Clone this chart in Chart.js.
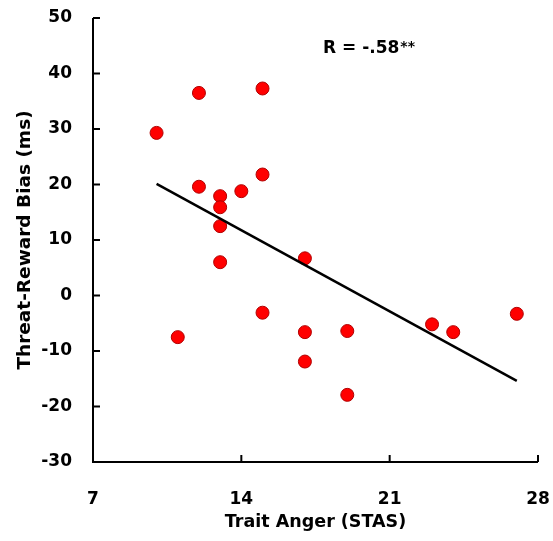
<!DOCTYPE html>
<html>
<head>
<meta charset="utf-8">
<script src="https://cdn.jsdelivr.net/npm/chart.js@4"></script>
<style>
  html, body { margin: 0; padding: 0; background: #fff; }
  #wrap { width: 553px; height: 541px; }
</style>
</head>
<body>
<div id="wrap"><canvas id="chart1"></canvas></div>
<script>
// data
const angerScores = [10, 11, 12, 12, 13, 13, 13, 13, 14, 15, 15, 15, 17, 17, 17, 19, 19, 23, 24, 27]
const biasValues = [29.3, -7.5, 36.5, 19.6, 17.9, 15.9, 12.5, 6.0, 18.8, 37.3, 21.8, -3.1, 6.7, -6.6, -11.9, -6.4, -17.9, -5.2, -6.6, -3.3]
const fitX = [10, 27]
const fitY = [20.1, -15.4]
const xTicks = [7, 14, 21, 28]
const yTicks = [-30, -20, -10, 0, 10, 20, 30, 40, 50]
const rLabel = 'R = -.58'
const rStars = '**'

const fontFamily = '"DejaVu Sans", Verdana, sans-serif'

const points = angerScores.map((x, i) => ({x: x, y: biasValues[i]}))
const fitLine = fitX.map((x, i) => ({x: x, y: fitY[i]}))

// axis lines + inward tick marks + R label
const axisPlugin = {
    id: 'axisPlugin',
    afterDraw(chart) {
        const ctx = chart.ctx
        const xs = chart.scales.x
        const ys = chart.scales.y
        const left = xs.getPixelForValue(7)
        const bottom = ys.getPixelForValue(-30)
        ctx.save()
        ctx.strokeStyle = '#000'
        ctx.lineWidth = 2
        ctx.beginPath()
        ctx.moveTo(left, ys.getPixelForValue(50))
        ctx.lineTo(left, bottom)
        ctx.lineTo(xs.getPixelForValue(28), bottom)
        ctx.stroke()
        yTicks.forEach(v => {
            const p = ys.getPixelForValue(v)
            ctx.beginPath()
            ctx.moveTo(left, p)
            ctx.lineTo(left + 7, p)
            ctx.stroke()
        })
        xTicks.forEach(v => {
            const p = xs.getPixelForValue(v)
            ctx.beginPath()
            ctx.moveTo(p, bottom)
            ctx.lineTo(p, bottom - 7)
            ctx.stroke()
        })
        // correlation label
        ctx.fillStyle = '#000'
        ctx.textBaseline = 'alphabetic'
        ctx.font = 'bold 17px ' + fontFamily
        ctx.fillText(rLabel, 323, 53)
        const w = ctx.measureText(rLabel).width
        ctx.font = 'bold 14px ' + fontFamily
        ctx.fillText(rStars, 323 + w + 1, 51)
        ctx.restore()
    }
}

const ctx1 = document.querySelector('#chart1').getContext('2d')

new Chart(ctx1, {
    type: 'scatter',
    data: {
        datasets: [
            {
                label: 'Fit',
                type: 'line',
                data: fitLine,
                borderColor: '#000',
                borderWidth: 2.5,
                pointRadius: 0,
                fill: false
            },
            {
                label: 'Participants',
                data: points,
                backgroundColor: '#ff0000',
                borderColor: '#b00000',
                borderWidth: 1,
                pointRadius: 6.5
            }
        ]
    },
    options: {
        responsive: true,
        maintainAspectRatio: false,
        animation: false,
        layout: {
            padding: {top: 18, right: 15, left: 0, bottom: 0}
        },
        plugins: {
            legend: {display: false},
            tooltip: {enabled: false}
        },
        scales: {
            x: {
                type: 'linear',
                min: 7,
                max: 28,
                afterBuildTicks: s => { s.ticks = xTicks.map(v => ({value: v})) },
                afterFit: s => {
                    s.height = 79
                    s.paddingLeft = 0
                    s.paddingRight = 0
                },
                grid: {display: false, drawTicks: false},
                border: {display: false},
                ticks: {
                    color: '#000',
                    padding: 27,
                    font: {family: fontFamily, size: 17, weight: 'bold'}
                },
                title: {
                    display: true,
                    text: 'Trait Anger (STAS)',
                    color: '#000',
                    padding: {top: 0, bottom: 8},
                    font: {family: fontFamily, size: 17.5, weight: 'bold'}
                }
            },
            y: {
                type: 'linear',
                min: -30,
                max: 50,
                afterBuildTicks: s => { s.ticks = yTicks.map(v => ({value: v})) },
                afterFit: s => {
                    s.width = 93
                    s.paddingTop = 0
                    s.paddingBottom = 0
                },
                grid: {display: false, drawTicks: false},
                border: {display: false},
                ticks: {
                    color: '#000',
                    padding: 21,
                    font: {family: fontFamily, size: 17, weight: 'bold'}
                },
                title: {
                    display: true,
                    text: 'Threat-Reward Bias (ms)',
                    color: '#000',
                    padding: {top: 14, bottom: 0},
                    font: {family: fontFamily, size: 18.5, weight: 'bold'}
                }
            }
        }
    },
    plugins: [axisPlugin]
})
</script>
</body>
</html>
